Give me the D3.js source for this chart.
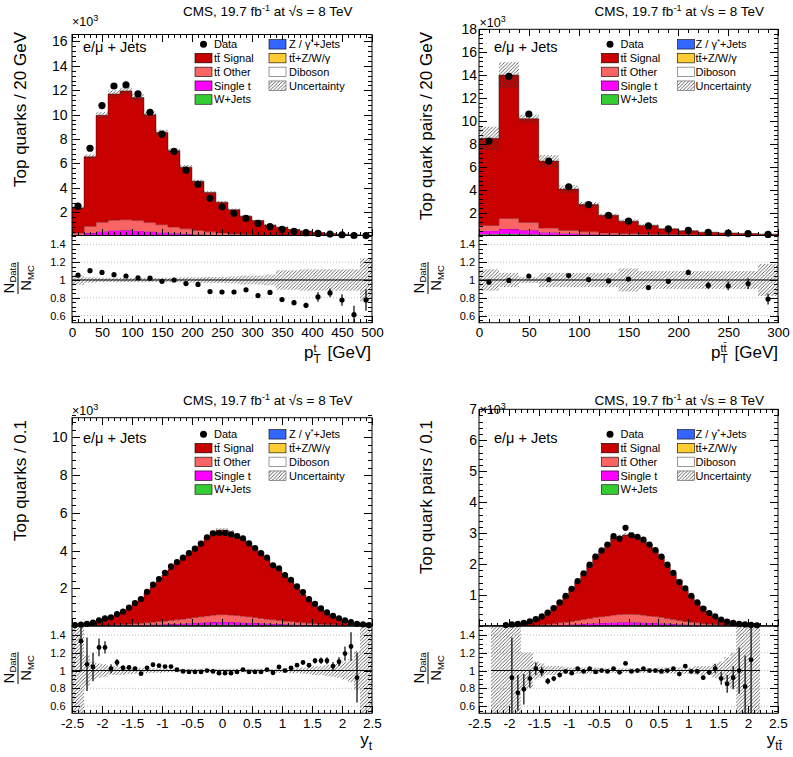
<!DOCTYPE html>
<html>
<head>
<meta charset="utf-8">
<style>
body { margin: 0; background: #fff; }
</style>
</head>
<body>
<div id="chart"></div>
<script src="https://d3js.org/d3.v7.min.js"></script>
<script>
// all yields in units of 10^3 events per bin

// --- top quark pT, 20 GeV bins from 0 to 500
var ptTopData  = [2.5, 7.25, 10.75, 12.35, 12.45, 11.7, 10.2, 8.4, 7.0, 5.45, 4.3, 3.15, 2.45, 1.92, 1.5, 1.1, 0.82, 0.6, 0.44, 0.33, 0.27, 0.22, 0.16, 0.1, 0.09];
var ptTopMC    = [2.35, 6.55, 9.95, 11.7, 11.95, 11.4, 10.0, 8.55, 7.05, 5.7, 4.55, 3.62, 2.83, 2.22, 1.68, 1.32, 0.96, 0.77, 0.59, 0.46, 0.34, 0.26, 0.21, 0.16, 0.12];
var ptTopOther = [0.2, 0.55, 0.75, 0.85, 0.87, 0.83, 0.74, 0.63, 0.52, 0.42, 0.33, 0.26, 0.2, 0.15, 0.12, 0.09, 0.07, 0.05, 0.04, 0.03, 0.025, 0.02, 0.015, 0.012, 0.01];
var ptTopSingleT = [0.06, 0.2, 0.3, 0.36, 0.38, 0.36, 0.31, 0.26, 0.21, 0.17, 0.13, 0.1, 0.08, 0.06, 0.05, 0.04, 0.03, 0.02, 0.015, 0.012, 0.01, 0.008, 0.006, 0.005, 0.004];
var ptTopWJets = [0.04, 0.1, 0.13, 0.14, 0.14, 0.13, 0.11, 0.09, 0.07, 0.06, 0.05, 0.04, 0.03, 0.02, 0.02, 0.015, 0.01, 0.008, 0.006, 0.005, 0.004, 0.003, 0.002, 0.002, 0.001];
var ptTopRatio = [1.055, 1.105, 1.085, 1.06, 1.045, 1.025, 1.02, 0.985, 1.0, 0.96, 0.95, 0.87, 0.865, 0.865, 0.89, 0.825, 0.86, 0.78, 0.745, 0.715, 0.81, 0.855, 0.775, 0.61, 0.775];
var ptTopRatioErr = [0.008, 0.008, 0.008, 0.008, 0.008, 0.008, 0.01, 0.01, 0.01, 0.012, 0.014, 0.016, 0.018, 0.02, 0.022, 0.022, 0.025, 0.025, 0.03, 0.03, 0.055, 0.05, 0.065, 0.1, 0.12];
var ptTopUnc   = [0.055, 0.03, 0.025, 0.025, 0.025, 0.025, 0.025, 0.025, 0.025, 0.03, 0.03, 0.035, 0.035, 0.04, 0.05, 0.05, 0.06, 0.11, 0.11, 0.12, 0.12, 0.12, 0.12, 0.12, 0.24];

// --- ttbar pT, 20 GeV bins from 0 to 300
var ptTTData  = [8.25, 13.9, 10.6, 6.5, 4.25, 2.7, 1.75, 1.25, 0.84, 0.57, 0.44, 0.27, 0.21, 0.16, 0.095];
var ptTTMC    = [8.48, 14.0, 10.2, 6.5, 4.05, 2.7, 1.77, 1.25, 0.88, 0.58, 0.41, 0.29, 0.22, 0.17, 0.12];
var ptTTOther = [0.45, 0.92, 0.68, 0.4, 0.28, 0.2, 0.14, 0.1, 0.07, 0.05, 0.04, 0.03, 0.025, 0.02, 0.015];
var ptTTSingleT = [0.3, 0.42, 0.35, 0.2, 0.13, 0.09, 0.06, 0.04, 0.03, 0.02, 0.015, 0.012, 0.01, 0.008, 0.006];
var ptTTWJets = [0.12, 0.14, 0.1, 0.06, 0.04, 0.03, 0.02, 0.015, 0.01, 0.008, 0.006, 0.005, 0.004, 0.003, 0.002];
var ptTTRatio = [0.975, 0.995, 1.045, 1.005, 1.05, 1.005, 0.99, 1.01, 0.915, 0.985, 1.085, 0.94, 0.935, 0.96, 0.785];
var ptTTRatioErr = [0.008, 0.008, 0.008, 0.01, 0.012, 0.014, 0.016, 0.018, 0.02, 0.025, 0.03, 0.04, 0.05, 0.06, 0.06];
var ptTTUnc   = [0.12, 0.08, 0.035, 0.08, 0.08, 0.08, 0.08, 0.13, 0.1, 0.1, 0.1, 0.1, 0.1, 0.1, 0.18];

// --- top quark rapidity, 0.1 bins from -2.5 to 2.5
var ytData  = [0.05, 0.08, 0.12, 0.18, 0.3, 0.4, 0.46, 0.63, 0.76, 0.97, 1.22, 1.43, 1.81, 2.19, 2.49, 2.82, 3.16, 3.39, 3.62, 3.86, 4.1, 4.37, 4.7, 4.91, 4.93, 4.93, 4.85, 4.77, 4.65, 4.38, 4.13, 3.86, 3.62, 3.22, 3.06, 2.7, 2.44, 2.1, 1.8, 1.42, 1.17, 0.93, 0.72, 0.54, 0.41, 0.3, 0.21, 0.12, 0.09, 0.05];
var ytMC    = [0.05, 0.07, 0.11, 0.17, 0.24, 0.32, 0.45, 0.58, 0.74, 0.94, 1.2, 1.48, 1.76, 2.06, 2.36, 2.7, 3.02, 3.36, 3.66, 3.92, 4.16, 4.44, 4.7, 4.96, 5.08, 5.08, 5.0, 4.84, 4.62, 4.42, 4.18, 3.92, 3.6, 3.28, 2.96, 2.68, 2.36, 1.98, 1.65, 1.34, 1.05, 0.84, 0.65, 0.51, 0.37, 0.25, 0.17, 0.13, 0.08, 0.05];
var ytOther = [0.003, 0.005, 0.008, 0.012, 0.018, 0.025, 0.033, 0.042, 0.053, 0.066, 0.08, 0.096, 0.113, 0.13, 0.15, 0.17, 0.19, 0.21, 0.235, 0.26, 0.285, 0.31, 0.34, 0.36, 0.38, 0.38, 0.37, 0.355, 0.335, 0.31, 0.285, 0.26, 0.235, 0.21, 0.19, 0.17, 0.15, 0.13, 0.113, 0.096, 0.08, 0.066, 0.053, 0.042, 0.033, 0.025, 0.018, 0.012, 0.008, 0.005];
var ytSingleT = [0.001, 0.002, 0.003, 0.005, 0.007, 0.01, 0.013, 0.017, 0.021, 0.026, 0.032, 0.038, 0.045, 0.052, 0.06, 0.068, 0.077, 0.086, 0.096, 0.106, 0.117, 0.128, 0.14, 0.15, 0.16, 0.16, 0.155, 0.147, 0.138, 0.128, 0.117, 0.106, 0.096, 0.086, 0.077, 0.068, 0.06, 0.052, 0.045, 0.038, 0.032, 0.026, 0.021, 0.017, 0.013, 0.01, 0.007, 0.005, 0.003, 0.002];
var ytWJets = [0, 0.001, 0.001, 0.002, 0.003, 0.004, 0.005, 0.007, 0.009, 0.011, 0.013, 0.016, 0.019, 0.022, 0.025, 0.028, 0.032, 0.036, 0.04, 0.044, 0.048, 0.052, 0.056, 0.06, 0.062, 0.062, 0.06, 0.057, 0.053, 0.049, 0.045, 0.041, 0.037, 0.033, 0.029, 0.025, 0.022, 0.019, 0.016, 0.013, 0.011, 0.009, 0.007, 0.005, 0.004, 0.003, 0.002, 0.001, 0.001, 0];
var ytRatio = [null, 1.33, 1.07, 1.04, 1.26, 1.26, 1.02, 1.09, 1.03, 1.035, 1.02, 0.965, 1.03, 1.065, 1.055, 1.045, 1.045, 1.01, 0.99, 0.985, 0.985, 0.985, 1.0, 0.99, 0.97, 0.97, 0.97, 0.985, 1.01, 0.985, 0.985, 0.985, 1.01, 0.975, 1.04, 1.0, 1.03, 1.06, 1.09, 1.06, 1.11, 1.11, 1.11, 1.05, 1.1, 1.19, 1.27, 0.92, null, null];
var ytRatioErr = [0, 0.34, 0.3, 0.16, 0.1, 0.07, 0.05, 0.04, 0.03, 0.025, 0.02, 0.018, 0.015, 0.015, 0.015, 0.012, 0.012, 0.012, 0.01, 0.01, 0.01, 0.01, 0.01, 0.01, 0.01, 0.01, 0.01, 0.01, 0.01, 0.01, 0.01, 0.01, 0.012, 0.012, 0.012, 0.015, 0.015, 0.018, 0.02, 0.025, 0.03, 0.035, 0.04, 0.045, 0.05, 0.08, 0.16, 0.28, 0, 0];
var ytUnc = [1, 1, 0.17, 0.1, 0.08, 0.07, 0.05, 0.05, 0.05, 0.04, 0.035, 0.03, 0.03, 0.025, 0.025, 0.02, 0.02, 0.02, 0.02, 0.02, 0.02, 0.02, 0.02, 0.02, 0.02, 0.02, 0.02, 0.02, 0.02, 0.02, 0.02, 0.02, 0.02, 0.02, 0.025, 0.025, 0.03, 0.03, 0.035, 0.04, 0.05, 0.05, 0.06, 0.07, 0.08, 0.1, 0.13, 0.22, 1, 1];

// --- ttbar rapidity, 0.1 bins from -2.5 to 2.5
var yttData = [null, null, null, null, 0.03, 0.05, 0.07, 0.1, 0.15, 0.22, 0.31, 0.43, 0.58, 0.76, 0.97, 1.2, 1.45, 1.7, 1.98, 2.24, 2.44, 2.63, 2.9, 2.82, 3.17, 2.93, 2.88, 2.79, 2.63, 2.45, 2.24, 1.98, 1.72, 1.42, 1.22, 0.97, 0.76, 0.56, 0.42, 0.31, 0.21, 0.14, 0.1, 0.07, 0.05, 0.035, 0.025, null, null, null];
var yttMC   = [0, 0, 0.01, 0.015, 0.025, 0.05, 0.09, 0.125, 0.165, 0.215, 0.31, 0.46, 0.62, 0.8, 0.98, 1.22, 1.43, 1.7, 1.95, 2.27, 2.44, 2.65, 2.84, 2.88, 2.94, 2.96, 2.88, 2.74, 2.63, 2.45, 2.26, 1.98, 1.69, 1.48, 1.16, 0.98, 0.77, 0.61, 0.43, 0.3, 0.23, 0.165, 0.11, 0.07, 0.06, 0.03, 0.02, 0, 0, 0];
var yttOther = [0, 0, 0.001, 0.002, 0.003, 0.005, 0.008, 0.01, 0.015, 0.02, 0.03, 0.04, 0.05, 0.07, 0.08, 0.1, 0.12, 0.14, 0.16, 0.19, 0.2, 0.22, 0.24, 0.25, 0.26, 0.26, 0.25, 0.24, 0.22, 0.21, 0.19, 0.16, 0.14, 0.12, 0.1, 0.08, 0.07, 0.05, 0.04, 0.03, 0.02, 0.015, 0.01, 0.008, 0.005, 0.003, 0.002, 0, 0, 0];
var yttSingleT = [0, 0, 0, 0, 0, 0.001, 0.002, 0.004, 0.005, 0.008, 0.01, 0.015, 0.02, 0.025, 0.03, 0.035, 0.045, 0.05, 0.06, 0.07, 0.075, 0.08, 0.085, 0.09, 0.09, 0.09, 0.09, 0.085, 0.08, 0.075, 0.07, 0.06, 0.05, 0.045, 0.035, 0.03, 0.025, 0.02, 0.015, 0.01, 0.008, 0.005, 0.004, 0.002, 0.001, 0, 0, 0, 0, 0];
var yttWJets = [0, 0, 0, 0, 0, 0, 0, 0, 0.001, 0.002, 0.004, 0.005, 0.006, 0.008, 0.01, 0.012, 0.015, 0.017, 0.02, 0.022, 0.025, 0.027, 0.029, 0.03, 0.03, 0.03, 0.03, 0.028, 0.026, 0.024, 0.021, 0.019, 0.016, 0.014, 0.011, 0.009, 0.007, 0.005, 0.004, 0.003, 0.002, 0.001, 0, 0, 0, 0, 0, 0, 0, 0];
var yttRatio = [null, null, null, null, null, 0.92, 0.75, 0.79, 0.91, 1.02, 0.99, 0.88, 0.91, 0.95, 0.99, 0.97, 1.02, 0.99, 1.02, 0.985, 1.0, 0.99, 1.02, 0.98, 1.08, 0.99, 1.0, 1.02, 1.0, 1.0, 0.99, 1.0, 1.02, 0.96, 1.05, 0.99, 0.99, 0.92, 0.98, 1.02, 0.91, 0.85, 0.92, 1.0, 0.82, 1.12, null, null, null, null];
var yttRatioErr = [0, 0, 0, 0, 0, 0.45, 0.2, 0.17, 0.1, 0.07, 0.05, 0.035, 0.03, 0.025, 0.02, 0.02, 0.015, 0.015, 0.015, 0.015, 0.015, 0.015, 0.015, 0.015, 0.015, 0.015, 0.015, 0.015, 0.015, 0.015, 0.015, 0.015, 0.015, 0.015, 0.02, 0.02, 0.02, 0.025, 0.03, 0.05, 0.07, 0.1, 0.13, 0.26, 0.35, 0.6, 0, 0, 0, 0];
var yttUnc = [0, 0, 1, 1, 1, 1, 0.5, 0.2, 0.2, 0.1, 0.08, 0.05, 0.05, 0.05, 0.035, 0.035, 0.035, 0.035, 0.035, 0.035, 0.025, 0.025, 0.025, 0.025, 0.025, 0.025, 0.025, 0.025, 0.025, 0.025, 0.035, 0.035, 0.035, 0.035, 0.035, 0.035, 0.05, 0.05, 0.05, 0.08, 0.1, 0.15, 0.2, 1, 1, 1, 1, 0, 0, 0];

// --- tick labels
var ptTopXLabels = ["0", "50", "100", "150", "200", "250", "300", "350", "400", "450", "500"];
var ptTTXLabels  = ["0", "50", "100", "150", "200", "250", "300"];
var rapXLabels   = ["-2.5", "-2", "-1.5", "-1", "-0.5", "0", "0.5", "1", "1.5", "2", "2.5"];
var ptTopYLabels = ["2", "4", "6", "8", "10", "12", "14", "16"];
var ptTTYLabels  = ["2", "4", "6", "8", "10", "12", "14", "16", "18"];
var ytYLabels    = ["2", "4", "6", "8", "10"];
var yttYLabels   = ["1", "2", "3", "4", "5", "6", "7"];
var ratioLabels  = ["0.6", "0.8", "1", "1.2", "1.4"];

var legendCol1 = [["data", "Data"], ["signal", "t\u0074\u0304 Signal"], ["other", "t\u0074\u0304 Other"], ["singleT", "Single t"], ["wJets", "W+Jets"]];
var legendCol2 = [["zJets", "Z / \u03b3*+Jets"], ["ttV", "t\u0074\u0304+Z/W/\u03b3"], ["diboson", "Diboson"], ["unc", "Uncertainty"]];

var COLORS = {signal: "#c80000", other: "#fa6464", singleT: "#ff00ff", wJets: "#33cc33",
              zJets: "#3366ff", ttV: "#ffcc33", diboson: "#ffffff"};
var FONT = '"Liberation Sans", Arial, Helvetica, sans-serif';
var ratioDomain = [0.52, 1.5];

var svg = d3.select("#chart").append("svg")
    .attr("width", 793).attr("height", 757)
    .style("font-family", FONT);
var defs = svg.append("defs");
defs.append("pattern").attr("id", "hatch")
    .attr("patternUnits", "userSpaceOnUse").attr("width", 3.5).attr("height", 3.5)
  .append("path")
    .attr("d", "M0,3.5 L3.5,0 M-1,1 L1,-1 M2.5,4.5 L4.5,2.5")
    .attr("stroke", "#333").attr("stroke-width", 0.75);

var panels = [
  {id: "tl", xMin: 0, xMax: 500, binW: 20, data: ptTopData, mc: ptTopMC, other: ptTopOther, singleT: ptTopSingleT,
   wJets: ptTopWJets, ratio: ptTopRatio, ratioErr: ptTopRatioErr, unc: ptTopUnc,
   xLabels: ptTopXLabels, xMinor: 10, yLabels: ptTopYLabels, yMinor: 0.4,
   left: 72, right: 372, mainTop: 34.5, mainBottom: 235.5, ratioBottom: 322.7, yDomain: [0.1, 16.57], labelPad: 4.5,
   title: [352.5, 16], expo: [72, 26], yTitle: [26, 32, "Top quarks / 20 GeV"], rTitle: [17.5, 278],
   xTitle: [371, 358, {main: "p", sub: "T", sup: "t", rest: " [GeV]"}], chan: [83, 52],
   leg: {c1: 203.5, t1: 214, c2: 277.5, t2: 289, y0: 44.3}, dot: 3.6, rdot: 2.6},
  {id: "tr", xMin: 0, xMax: 300, binW: 20, data: ptTTData, mc: ptTTMC, other: ptTTOther, singleT: ptTTSingleT,
   wJets: ptTTWJets, ratio: ptTTRatio, ratioErr: ptTTRatioErr, unc: ptTTUnc,
   xLabels: ptTTXLabels, xMinor: 10, yLabels: ptTTYLabels, yMinor: 0.4,
   left: 479, right: 778, mainTop: 29.3, mainBottom: 235.5, ratioBottom: 322.7, yDomain: [0, 18], labelPad: 2,
   title: [764, 16], expo: [479.5, 27], yTitle: [432, 32, "Top quark pairs / 20 GeV"], rTitle: [427.5, 278],
   xTitle: [778, 358, {main: "p", sub: "T", sup: "t\u0074\u0304", rest: " [GeV]"}], chan: [494, 52],
   leg: {c1: 610, t1: 620.5, c2: 686, t2: 695.5, y0: 44.3}, dot: 3.6, rdot: 2.6},
  {id: "bl", xMin: -2.5, xMax: 2.5, binW: 0.1, data: ytData, mc: ytMC, other: ytOther, singleT: ytSingleT,
   wJets: ytWJets, ratio: ytRatio, ratioErr: ytRatioErr, unc: ytUnc,
   xLabels: rapXLabels, xMinor: 0.1, yLabels: ytYLabels, yMinor: 0.4,
   left: 72, right: 372, mainTop: 417.7, mainBottom: 626, ratioBottom: 713.3, yDomain: [0, 11.04], labelPad: 4.5,
   title: [352.5, 405], expo: [72, 415], yTitle: [26, 420, "Top quarks / 0.1"], rTitle: [17.5, 668],
   xTitle: [372, 745, {main: "y", sub: "t"}], chan: [83, 443],
   leg: {c1: 203.5, t1: 214, c2: 277.5, t2: 289, y0: 434.3}, dot: 3.1, rdot: 2.4},
  {id: "br", xMin: -2.5, xMax: 2.5, binW: 0.1, data: yttData, mc: yttMC, other: yttOther, singleT: yttSingleT,
   wJets: yttWJets, ratio: yttRatio, ratioErr: yttRatioErr, unc: yttUnc,
   xLabels: rapXLabels, xMinor: 0.1, yLabels: yttYLabels, yMinor: 0.2,
   left: 479, right: 778, mainTop: 409.3, mainBottom: 626, ratioBottom: 713.3, yDomain: [0, 7], labelPad: 2,
   title: [764, 405], expo: [479.5, 414], yTitle: [432, 420, "Top quark pairs / 0.1"], rTitle: [427.5, 668],
   xTitle: [782, 745, {main: "y", sub: "t\u0074\u0304"}], chan: [494, 443],
   leg: {c1: 610, t1: 620.5, c2: 686, t2: 695.5, y0: 434.3}, dot: 3.1, rdot: 2.4}
];

function minorTicks(lo, hi, step, majors) {
  var n = Math.round((hi - lo) / step);
  return d3.range(n + 1).map(i => +(lo + i * step).toFixed(6))
    .filter(v => !majors.some(m => Math.abs(m - v) < 1e-6));
}

function addAxis(g, axis, tx, ty, fontSize) {
  var a = g.append("g").attr("transform", `translate(${tx},${ty})`).call(axis);
  a.select(".domain").remove();
  a.attr("font-family", FONT).attr("font-size", fontSize || 10);
  a.selectAll("line").attr("shape-rendering", "crispEdges");
  return a;
}

function drawPanel(p) {
  var n = p.mc.length;
  var edges = d3.range(n + 1).map(i => +(p.xMin + i * p.binW).toFixed(6));
  var x = d3.scaleLinear().domain([p.xMin, p.xMax]).range([p.left, p.right]);
  var y = d3.scaleLinear().domain(p.yDomain).range([p.mainBottom, p.mainTop]);
  var yr = d3.scaleLinear().domain(ratioDomain).range([p.ratioBottom, p.mainBottom]);
  var g = svg.append("g").attr("class", "panel " + p.id);
  var w = p.right - p.left;

  defs.append("clipPath").attr("id", p.id + "-main").append("rect")
    .attr("x", p.left).attr("y", p.mainTop).attr("width", w).attr("height", p.mainBottom - p.mainTop);
  defs.append("clipPath").attr("id", p.id + "-ratio").append("rect")
    .attr("x", p.left).attr("y", p.mainBottom).attr("width", w).attr("height", p.ratioBottom - p.mainBottom);

  /* stacked simulation */
  var rows = d3.range(n).map(i => ({
    lo: edges[i], hi: edges[i + 1],
    wJets: p.wJets[i], singleT: p.singleT[i], other: p.other[i],
    signal: Math.max(0, p.mc[i] - p.wJets[i] - p.singleT[i] - p.other[i])
  }));
  var series = d3.stack().keys(["wJets", "singleT", "other", "signal"])(rows);
  var main = g.append("g").attr("clip-path", `url(#${p.id}-main)`);

  series.forEach(s => {
    var pts = s.map(d => ({x: d.data.lo, y0: d[0], y1: d[1]}));
    var last = s[n - 1];
    pts.push({x: edges[n], y0: last[0], y1: last[1]});
    main.append("path")
      .attr("d", d3.area().curve(d3.curveStepAfter).x(d => x(d.x)).y0(d => y(d.y0)).y1(d => y(d.y1))(pts))
      .attr("fill", COLORS[s.key]);
    main.append("path")
      .attr("d", d3.line().curve(d3.curveStepAfter).x(d => x(d.x)).y(d => y(d.y1))(pts))
      .attr("fill", "none").attr("stroke", "#000").attr("stroke-opacity", 0.65).attr("stroke-width", 0.6);
  });

  /* uncertainty band on the stack */
  var mcBins = rows.map((r, i) => ({lo: r.lo, hi: r.hi, mc: p.mc[i], u: p.unc[i]})).filter(d => d.mc > 0);
  main.selectAll(".unc").data(mcBins).enter().append("rect")
    .attr("class", "unc")
    .attr("x", d => x(d.lo)).attr("width", d => x(d.hi) - x(d.lo))
    .attr("y", d => y(d.mc * (1 + d.u)))
    .attr("height", d => y(d.mc * (1 - d.u)) - y(d.mc * (1 + d.u)))
    .attr("fill", "url(#hatch)");

  g.append("rect").attr("x", p.left).attr("y", p.mainTop).attr("width", w).attr("height", p.mainBottom - p.mainTop)
    .attr("fill", "none").attr("stroke", "#000").attr("stroke-width", 1);

  /* ratio panel */
  var ratio = g.append("g").attr("clip-path", `url(#${p.id}-ratio)`);
  var rTicks = ratioLabels.map(Number);
  ratio.selectAll(".grid").data(rTicks).enter().append("line")
    .attr("x1", p.left).attr("x2", p.right).attr("y1", d => yr(d)).attr("y2", d => yr(d))
    .attr("stroke", "#aaa").attr("stroke-width", 0.8).attr("stroke-dasharray", "1,2");
  ratio.selectAll(".runc").data(mcBins).enter().append("rect")
    .attr("x", d => x(d.lo)).attr("width", d => x(d.hi) - x(d.lo))
    .attr("y", d => yr(Math.min(1 + d.u, 1.6)))
    .attr("height", d => yr(Math.max(1 - d.u, 0.4)) - yr(Math.min(1 + d.u, 1.6)))
    .attr("fill", "url(#hatch)");
  ratio.append("line")
    .attr("x1", x(mcBins[0].lo)).attr("x2", x(mcBins[mcBins.length - 1].hi))
    .attr("y1", yr(1)).attr("y2", yr(1)).attr("stroke", "#000").attr("stroke-width", 1);

  var rPts = rows.map((r, i) => ({c: (r.lo + r.hi) / 2, r: p.ratio[i], e: p.ratioErr[i]})).filter(d => d.r != null);
  ratio.selectAll(".rerr").data(rPts).enter().append("line")
    .attr("x1", d => x(d.c)).attr("x2", d => x(d.c))
    .attr("y1", d => yr(d.r - d.e)).attr("y2", d => yr(d.r + d.e))
    .attr("stroke", "#000").attr("stroke-width", 1.2);
  ratio.selectAll(".rpt").data(rPts).enter().append("circle")
    .attr("cx", d => x(d.c)).attr("cy", d => yr(d.r)).attr("r", p.rdot).attr("fill", "#000");

  g.append("rect").attr("x", p.left).attr("y", p.mainBottom).attr("width", w).attr("height", p.ratioBottom - p.mainBottom)
    .attr("fill", "none").attr("stroke", "#000").attr("stroke-width", 1);

  /* axes */
  var xMaj = p.xLabels.map(Number);
  var xMin = minorTicks(p.xMin, p.xMax, p.xMinor, xMaj);
  var yMaj = p.yLabels.map(Number);
  var yMin = minorTicks(0, p.yDomain[1], p.yMinor, yMaj).filter(v => v > p.yDomain[0]);
  var rMin = minorTicks(0.55, 1.5, 0.05, rTicks);

  addAxis(g, d3.axisLeft(y).tickValues(yMaj).tickFormat((d, i) => p.yLabels[i]).tickSize(-8).tickPadding(p.labelPad), p.left, 0, 14);
  addAxis(g, d3.axisLeft(y).tickValues(yMin).tickFormat("").tickSize(-4), p.left, 0);
  addAxis(g, d3.axisRight(y).tickValues(yMaj).tickFormat("").tickSize(-8), p.right, 0);
  addAxis(g, d3.axisRight(y).tickValues(yMin).tickFormat("").tickSize(-4), p.right, 0);

  addAxis(g, d3.axisLeft(yr).tickValues(rTicks).tickFormat((d, i) => ratioLabels[i]).tickSize(-8).tickPadding(p.labelPad + 2), p.left, 0, 11);
  addAxis(g, d3.axisLeft(yr).tickValues(rMin).tickFormat("").tickSize(-4), p.left, 0);
  addAxis(g, d3.axisRight(yr).tickValues(rTicks).tickFormat("").tickSize(-8), p.right, 0);
  addAxis(g, d3.axisRight(yr).tickValues(rMin).tickFormat("").tickSize(-4), p.right, 0);

  [[d3.axisTop, p.mainTop], [d3.axisBottom, p.mainBottom]].forEach(a => {
    addAxis(g, a[0](x).tickValues(xMaj).tickFormat("").tickSize(-7), 0, a[1]);
    addAxis(g, a[0](x).tickValues(xMin).tickFormat("").tickSize(-3.5), 0, a[1]);
  });
  addAxis(g, d3.axisBottom(x).tickValues(xMaj).tickFormat((d, i) => p.xLabels[i]).tickSize(-7).tickPadding(5), 0, p.ratioBottom, 13.5);
  addAxis(g, d3.axisBottom(x).tickValues(xMin).tickFormat("").tickSize(-3.5), 0, p.ratioBottom);

  /* data points on the main panel */
  var dPts = rows.map((r, i) => ({c: (r.lo + r.hi) / 2, v: p.data[i]})).filter(d => d.v != null);
  g.selectAll(".dpt").data(dPts).enter().append("circle")
    .attr("cx", d => x(d.c)).attr("cy", d => y(d.v)).attr("r", p.dot).attr("fill", "#000");

  /* texts */
  var t = g.append("text").attr("x", p.title[0]).attr("y", p.title[1]).attr("text-anchor", "end").attr("font-size", 13.5);
  t.append("tspan").text("CMS, 19.7 fb");
  t.append("tspan").attr("font-size", 9).attr("dy", -5).text("-1");
  t.append("tspan").attr("dy", 5).text(" at \u221as = 8 TeV");

  var e = g.append("text").attr("x", p.expo[0]).attr("y", p.expo[1]).attr("font-size", 12.5);
  e.append("tspan").text("\u00d710");
  e.append("tspan").attr("font-size", 9).attr("dy", -5).text("3");

  g.append("text").attr("transform", `translate(${p.yTitle[0]},${p.yTitle[1]}) rotate(-90)`)
    .attr("text-anchor", "end").attr("font-size", 17).text(p.yTitle[2]);

  var rt = g.append("g").attr("transform", `translate(${p.rTitle[0]},${p.rTitle[1]}) rotate(-90)`);
  var num = rt.append("text").attr("text-anchor", "middle").attr("y", -4).attr("font-size", 15);
  num.append("tspan").text("N");
  num.append("tspan").attr("font-size", 9.5).attr("dy", 2.5).text("Data");
  var den = rt.append("text").attr("text-anchor", "middle").attr("y", 13.5).attr("font-size", 15);
  den.append("tspan").text("N");
  den.append("tspan").attr("font-size", 9.5).attr("dy", 2.5).text("MC");
  rt.append("line").attr("x1", -16).attr("x2", 16).attr("y1", 0.5).attr("y2", 0.5).attr("stroke", "#000").attr("stroke-width", 1);

  var spec = p.xTitle[2];
  var xt = g.append("text").attr("x", p.xTitle[0]).attr("y", p.xTitle[1]).attr("text-anchor", "end").attr("font-size", 17);
  xt.append("tspan").text(spec.main);
  var sub = xt.append("tspan").attr("font-size", 12).attr("dy", 5).text(spec.sub);
  var back = 5, extra = 0;
  if (spec.sup) {
    var sw = sub.node().getComputedTextLength();
    var sup = xt.append("tspan").attr("font-size", 11).attr("dx", -sw).attr("dy", -11.5).text(spec.sup);
    extra = Math.max(0, sw - sup.node().getComputedTextLength());
    back = 6.5;
  }
  if (spec.rest) xt.append("tspan").attr("dx", extra + 2).attr("dy", back).text(spec.rest);

  g.append("text").attr("x", p.chan[0]).attr("y", p.chan[1]).attr("font-size", 14.5).text("e/\u03bc + Jets");

  /* legend */
  var L = p.leg;
  legendCol1.forEach((d, i) => legendEntry(g, L.c1, L.t1, L.y0 + i * 13.8, d));
  legendCol2.forEach((d, i) => legendEntry(g, L.c2, L.t2, L.y0 + i * 13.8, d));
}

function legendEntry(g, cx, tx, cy, d) {
  var key = d[0], label = d[1];
  if (key === "data") {
    g.append("circle").attr("cx", cx).attr("cy", cy).attr("r", 3.5).attr("fill", "#000");
  } else {
    g.append("rect").attr("x", cx - 8.5).attr("y", cy - 4.75).attr("width", 17).attr("height", 9.5)
      .attr("fill", key === "unc" ? "url(#hatch)" : COLORS[key])
      .attr("stroke", key === "unc" || key === "diboson" ? "#555" : "#000").attr("stroke-width", 0.6);
  }
  var t = g.append("text").attr("x", tx).attr("y", cy).attr("dy", "0.36em").attr("font-size", 11);
  var parts = label.split("*");
  t.append("tspan").text(parts[0]);
  if (parts.length > 1) {
    t.append("tspan").attr("font-size", 8).attr("dy", -4).text("*");
    t.append("tspan").attr("dy", 4).text(parts[1]);
  }
}

panels.forEach(drawPanel);
</script>
</body>
</html>
